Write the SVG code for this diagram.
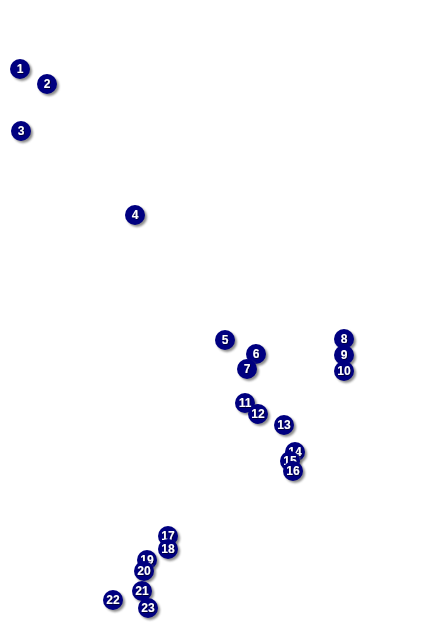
<svg xmlns="http://www.w3.org/2000/svg" width="424" height="636" viewBox="0 0 424 636">
<defs>
<filter id="sh" x="-50%" y="-50%" width="200%" height="200%">
<feGaussianBlur stdDeviation="1"/>
</filter>
<filter id="ts" x="-50%" y="-50%" width="200%" height="200%">
<feDropShadow dx="0.7" dy="0.7" stdDeviation="0.4" flood-color="#000" flood-opacity="0.8"/>
</filter>
</defs>
<style>
.s{fill:#666;opacity:0.75;filter:url(#sh)}
.c{fill:#000080}
.t{fill:#fff;font-family:"Liberation Sans",Arial,sans-serif;font-weight:bold;font-size:12px;text-anchor:middle;filter:url(#ts)}
</style>
<rect width="424" height="636" fill="#fff"/>
<g id="connectors"></g>
<g id="n1" transform="translate(20,69)"><circle class="s" cx="2" cy="2" r="10"/><circle class="c" r="10"/><text class="t" y="4">1</text></g>
<g id="n2" transform="translate(47,84)"><circle class="s" cx="2" cy="2" r="10"/><circle class="c" r="10"/><text class="t" y="4">2</text></g>
<g id="n3" transform="translate(21,131)"><circle class="s" cx="2" cy="2" r="10"/><circle class="c" r="10"/><text class="t" y="4">3</text></g>
<g id="n4" transform="translate(135,215)"><circle class="s" cx="2" cy="2" r="10"/><circle class="c" r="10"/><text class="t" y="4">4</text></g>
<g id="n5" transform="translate(225,340)"><circle class="s" cx="2" cy="2" r="10"/><circle class="c" r="10"/><text class="t" y="4">5</text></g>
<g id="n6" transform="translate(256,354)"><circle class="s" cx="2" cy="2" r="10"/><circle class="c" r="10"/><text class="t" y="4">6</text></g>
<g id="n7" transform="translate(247,369)"><circle class="s" cx="2" cy="2" r="10"/><circle class="c" r="10"/><text class="t" y="4">7</text></g>
<g id="n8" transform="translate(344,339)"><circle class="s" cx="2" cy="2" r="10"/><circle class="c" r="10"/><text class="t" y="4">8</text></g>
<g id="n9" transform="translate(344,355)"><circle class="s" cx="2" cy="2" r="10"/><circle class="c" r="10"/><text class="t" y="4">9</text></g>
<g id="n10" transform="translate(344,371)"><circle class="s" cx="2" cy="2" r="10"/><circle class="c" r="10"/><text class="t" y="4">10</text></g>
<g id="n11" transform="translate(245,403)"><circle class="s" cx="2" cy="2" r="10"/><circle class="c" r="10"/><text class="t" y="4">11</text></g>
<g id="n12" transform="translate(258,414)"><circle class="s" cx="2" cy="2" r="10"/><circle class="c" r="10"/><text class="t" y="4">12</text></g>
<g id="n13" transform="translate(284,425)"><circle class="s" cx="2" cy="2" r="10"/><circle class="c" r="10"/><text class="t" y="4">13</text></g>
<g id="n14" transform="translate(295,452)"><circle class="s" cx="2" cy="2" r="10"/><circle class="c" r="10"/><text class="t" y="4">14</text></g>
<g id="n15" transform="translate(290,461)"><circle class="s" cx="2" cy="2" r="10"/><circle class="c" r="10"/><text class="t" y="4">15</text></g>
<g id="n16" transform="translate(293,471)"><circle class="s" cx="2" cy="2" r="10"/><circle class="c" r="10"/><text class="t" y="4">16</text></g>
<g id="n17" transform="translate(168,536)"><circle class="s" cx="2" cy="2" r="10"/><circle class="c" r="10"/><text class="t" y="4">17</text></g>
<g id="n18" transform="translate(168,549)"><circle class="s" cx="2" cy="2" r="10"/><circle class="c" r="10"/><text class="t" y="4">18</text></g>
<g id="n19" transform="translate(147,560)"><circle class="s" cx="2" cy="2" r="10"/><circle class="c" r="10"/><text class="t" y="4">19</text></g>
<g id="n20" transform="translate(144,571)"><circle class="s" cx="2" cy="2" r="10"/><circle class="c" r="10"/><text class="t" y="4">20</text></g>
<g id="n21" transform="translate(142,591)"><circle class="s" cx="2" cy="2" r="10"/><circle class="c" r="10"/><text class="t" y="4">21</text></g>
<g id="n22" transform="translate(113,600)"><circle class="s" cx="2" cy="2" r="10"/><circle class="c" r="10"/><text class="t" y="4">22</text></g>
<g id="n23" transform="translate(148,608)"><circle class="s" cx="2" cy="2" r="10"/><circle class="c" r="10"/><text class="t" y="4">23</text></g>
</svg>
